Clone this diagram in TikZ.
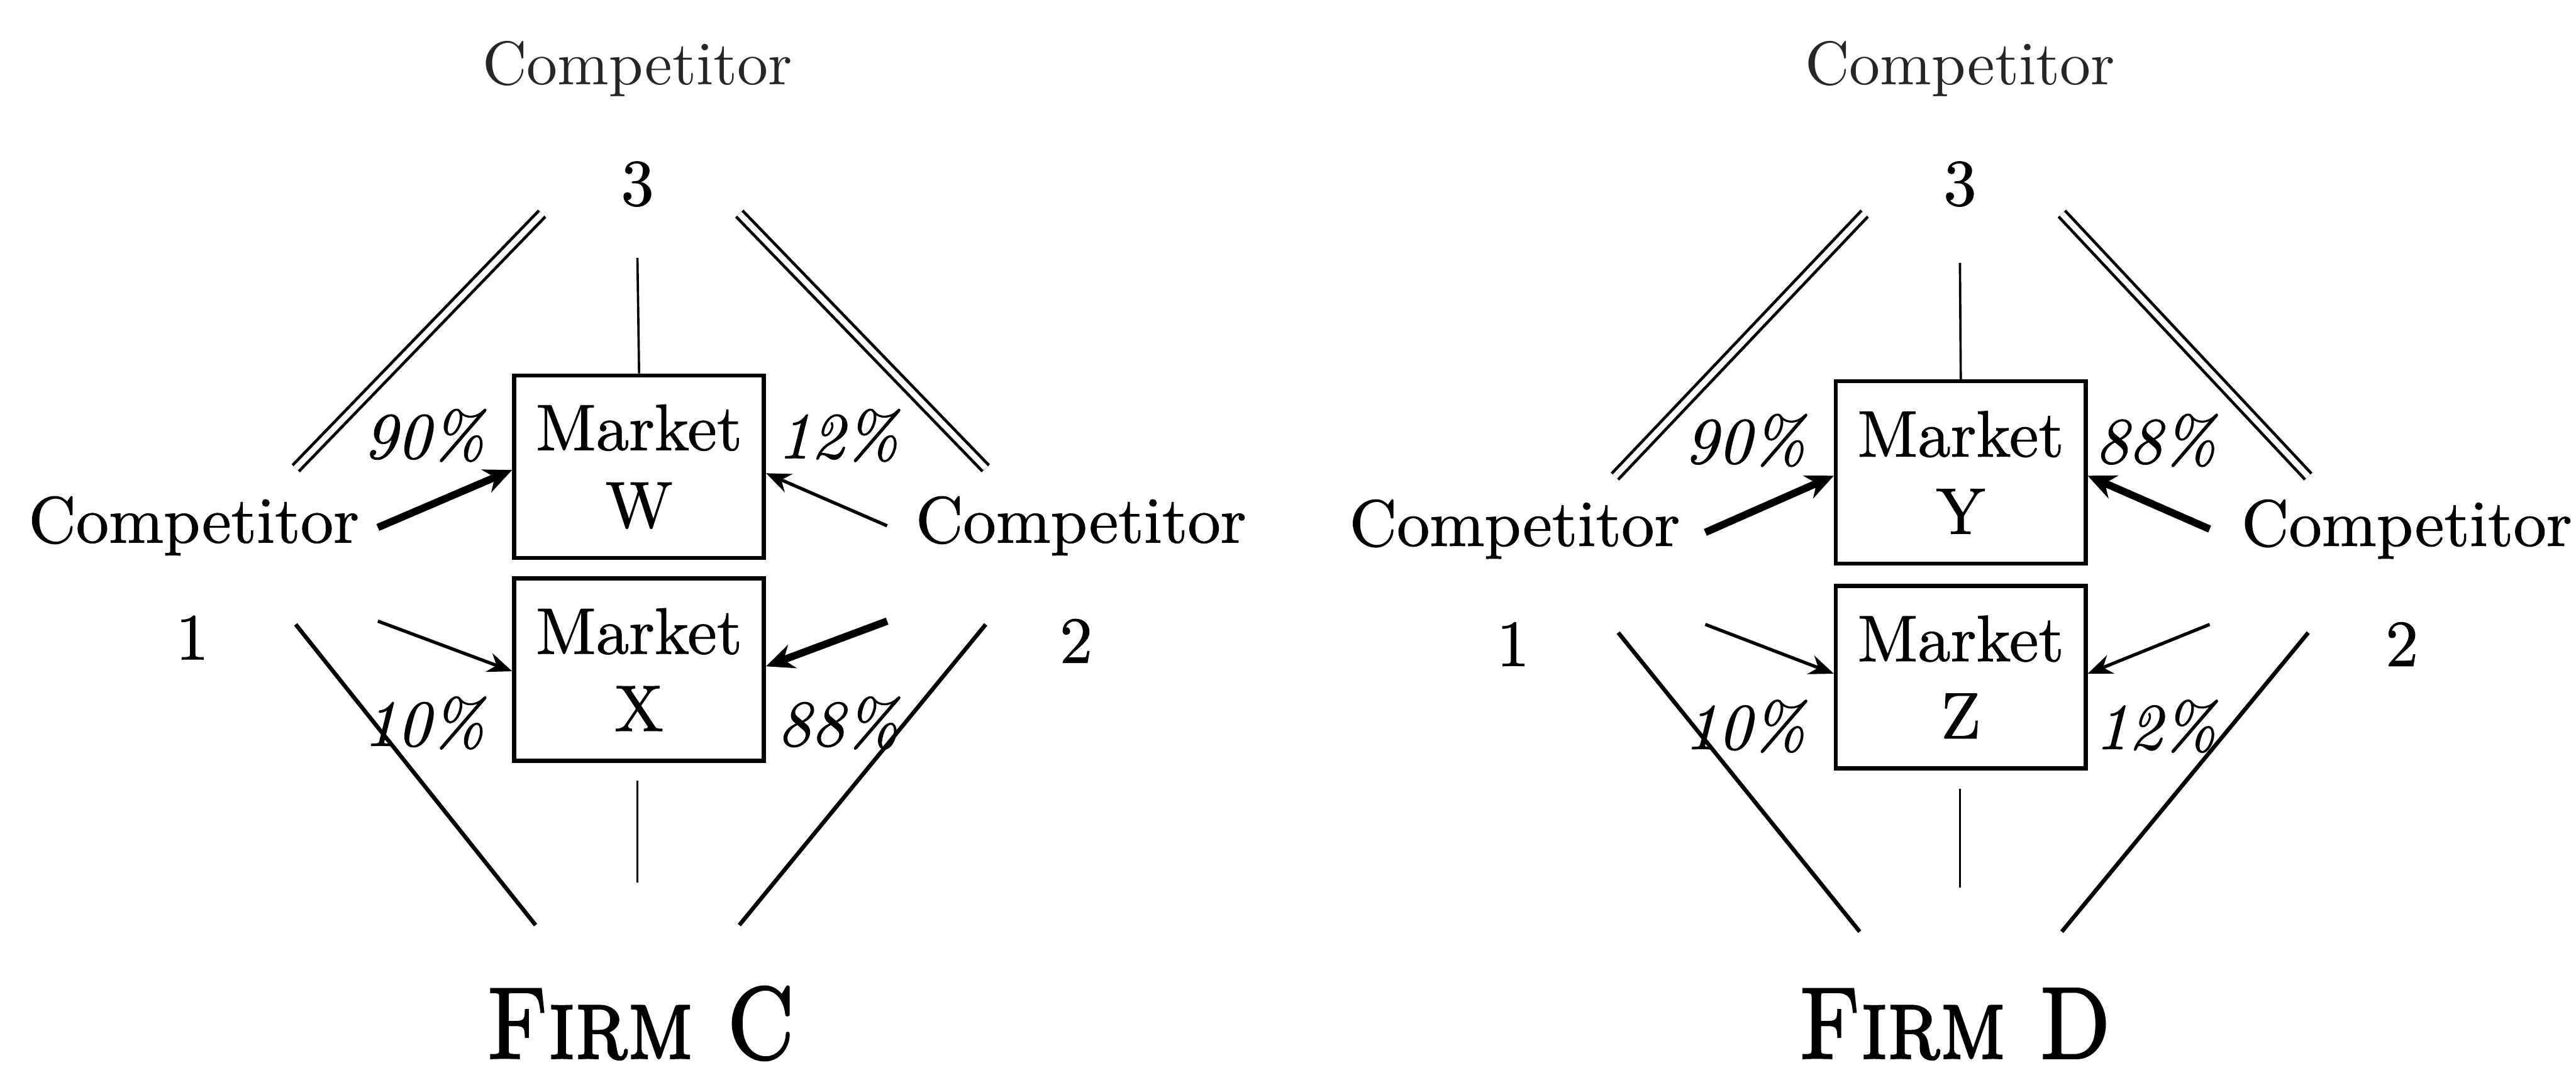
\documentclass[tikz,border=0pt]{standalone}
\usepackage{graphicx}
\usepackage{fontspec}
\newfontfamily\bodyfont{lmroman10-regular.otf}[ItalicFont=lmroman10-italic.otf, FakeBold=0.9]
\newfontfamily\topfont{lmroman10-regular.otf}
\newfontfamily\firmfont{lmromancaps10-regular.otf}[FakeBold=2]
\usetikzlibrary{arrows.meta,calc}
\begin{document}
\begin{tikzpicture}[x=1pt,y=-1pt,
  lbl/.style={font=\bodyfont\fontsize{40}{40}\selectfont, inner sep=0pt},
  topc/.style={font=\topfont\fontsize{37.5}{37.5}\selectfont, inner sep=0pt, text=black!85},
  pct/.style={font=\bodyfont\fontsize{40}{40}\selectfont\itshape, inner sep=0pt},
  mbox/.style={draw, line width=2.5pt, minimum width=152pt, minimum height=111pt,
    align=center, inner sep=0pt, font=\bodyfont\fontsize{40}{47}\selectfont},
  firm/.style={font=\firmfont\fontsize{62}{62}\selectfont, inner sep=0pt, anchor=base},
  vline/.style={line width=1.4pt},
  diag/.style={line width=2.5pt},
  dbl/.style={double, double distance=3.5pt, line width=1.8pt},
  thinarr/.style={line width=2pt, -{Stealth[length=15pt,width=12pt]}},
  thickarr/.style={line width=4.5pt, -{Stealth[length=17pt,width=15pt]}},
]
\useasboundingbox (0,0) rectangle (1568,654);

% ---------------- Left panel: Firm C ----------------
\node[topc] (a3t) at (388,42) {Competitor};
\node[lbl] (a3) at (388,112) {3};
\node[lbl] (a1t) at (118,320) {Competitor};
\node[lbl] (a1) at (117,388) {1};
\node[lbl] (a2t) at (658,320) {Competitor};
\node[lbl] (a2) at (655,390) {2};
\node[mbox] (aW) at (389,284) {Market\\W};
\node[mbox] (aX) at (389,407.5) {Market\\X};
\node[pct] (ap1) at (258,265) {90\%};
\node[pct] (ap2) at (510,265) {12\%};
\node[pct] (ap3) at (258,440) {10\%};
\node[pct] (ap4) at (510,440) {88\%};
\node[firm] (aF) at (390,644) {\scalebox{0.86}[1]{Firm C}};

\coordinate (aT1) at (388,157);
\coordinate (aB1) at (388,475);
\coordinate (aB2) at (388,537);
\coordinate (aDL1) at (180,285);
\coordinate (aDL2) at (330,130);
\coordinate (aDR1) at (450,130);
\coordinate (aDR2) at (600,285);
\coordinate (aLL1) at (180,380);
\coordinate (aLL2) at (326,563);
\coordinate (aLR1) at (600,380);
\coordinate (aLR2) at (450,563);
\coordinate (aA1) at (230,321);
\coordinate (aA2) at (540,320);
\coordinate (aA3) at (230,378);
\coordinate (aA4) at (540,378);

\draw[vline] (aT1) -- (aW.north);
\draw[vline] (aB1) -- (aB2);
\draw[dbl] (aDL1) -- (aDL2);
\draw[dbl] (aDR1) -- (aDR2);
\draw[diag] (aLL1) -- (aLL2);
\draw[diag] (aLR1) -- (aLR2);
\draw[thickarr] (aA1) -- ($(aW.west)+(0,2)$);
\draw[thinarr] (aA2) -- ($(aW.east)+(0,4)$);
\draw[thinarr] (aA3) -- ($(aX.west)+(0,1)$);
\draw[thickarr] (aA4) -- ($(aX.east)+(0,-2)$);

% ---------------- Right panel: Firm D ----------------
\begin{scope}[shift={(805,4)}]
\node[topc] (b3t) at (388,38) {Competitor};
\node[lbl] (b3) at (388,108) {3};
\node[lbl] (b1t) at (117,318) {Competitor};
\node[lbl] (b1) at (116,388) {1};
\node[lbl] (b2t) at (660,318) {Competitor};
\node[lbl] (b2) at (657,388) {2};
\node[mbox] (bY) at (388.5,283.5) {Market\\Y};
\node[mbox] (bZ) at (388.5,408) {Market\\Z};
\node[pct] (bp1) at (257,264) {90\%};
\node[pct] (bp2) at (507,264) {88\%};
\node[pct] (bp3) at (257,438) {10\%};
\node[pct] (bp4) at (507,438) {12\%};
\node[firm] (bF) at (385,640) {\scalebox{0.86}[1]{Firm D}};

\coordinate (bT1) at (388,156);
\coordinate (bB1) at (388,476);
\coordinate (bB2) at (388,536);
\coordinate (bDL1) at (178,286);
\coordinate (bDL2) at (330,126);
\coordinate (bDR1) at (450,126);
\coordinate (bDR2) at (600,286);
\coordinate (bLL1) at (180,381);
\coordinate (bLL2) at (327,563);
\coordinate (bLR1) at (600,381);
\coordinate (bLR2) at (450,563);
\coordinate (bA1) at (233,320);
\coordinate (bA2) at (540,318);
\coordinate (bA3) at (233,376);
\coordinate (bA4) at (540,376);

\draw[vline] (bT1) -- (bY.north);
\draw[vline] (bB1) -- (bB2);
\draw[dbl] (bDL1) -- (bDL2);
\draw[dbl] (bDR1) -- (bDR2);
\draw[diag] (bLL1) -- (bLL2);
\draw[diag] (bLR1) -- (bLR2);
\draw[thickarr] (bA1) -- ($(bY.west)+(0,2)$);
\draw[thickarr] (bA2) -- ($(bY.east)+(0,2)$);
\draw[thinarr] (bA3) -- ($(bZ.west)+(0,-2)$);
\draw[thinarr] (bA4) -- ($(bZ.east)+(0,-2)$);
\end{scope}
\end{tikzpicture}
\end{document}
